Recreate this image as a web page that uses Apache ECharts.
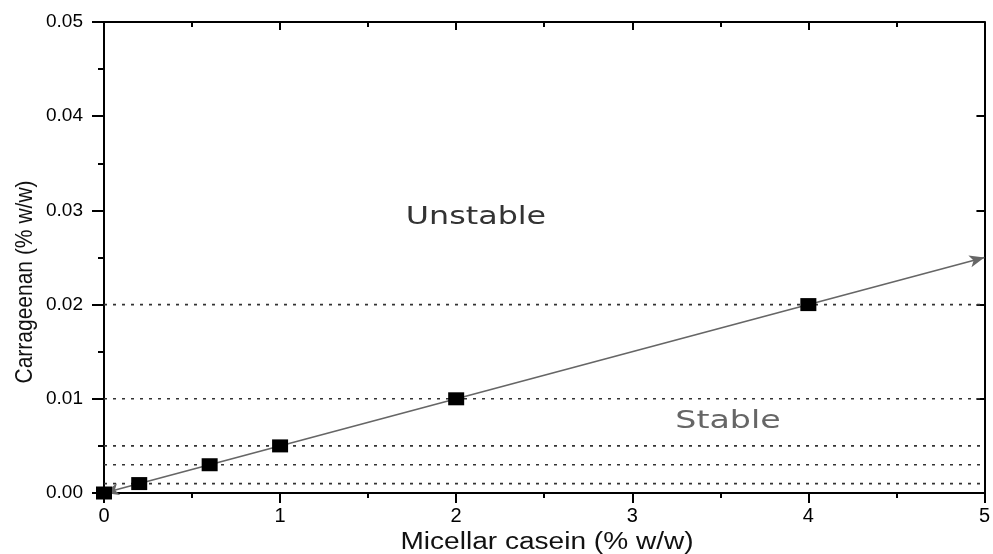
<!DOCTYPE html>
<html>
<head>
<meta charset="utf-8">
<script src="https://cdn.jsdelivr.net/npm/echarts@6/dist/echarts.min.js"></script>
<style>
  html, body { margin: 0; padding: 0; background: #fff; }
  #chart { width: 993px; height: 554px; }
</style>
</head>
<body>
<div id="chart"></div>
<script>
// Measured boundary points: micellar casein vs carrageenan
const caseinValues = [0, 0.2, 0.6, 1, 2, 4];
const carrageenanValues = [0, 0.001, 0.003, 0.005, 0.01, 0.02];
// Reference levels drawn as dotted horizontal lines
const levelValues = [0.02, 0.01, 0.005, 0.003, 0.001];
// Ends of the fitted trend arrow
const trendStart = [0, 0];
const trendEnd = [5, 0.025];
const yTicks = ['0.00', '0.01', '0.02', '0.03', '0.04', '0.05'];
const xTicks = ['0', '1', '2', '3', '4', '5'];

const chart = echarts.init(document.getElementById('chart'));
const font = '"Liberation Sans", Arial, sans-serif';
const wideFont = '"DejaVu Sans", sans-serif';

const points = caseinValues.map((x, i) => [x, carrageenanValues[i]]);
const X_MIN = 0, X_MAX = 5;

const axisLine = { show: true, onZero: false, lineStyle: { color: '#000', width: 2 } };
const tickStyle = { color: '#000', width: 2 };

// Dotted reference levels, each spanning the full casein range
const levelSeries = levelValues.map(v => ({
  type: 'line',
  data: [[X_MIN, v], [X_MAX, v]],
  symbol: 'none',
  silent: true,
  lineStyle: { type: [3, 6], color: '#333', width: 1.6 },
  z: 1
}));

chart.setOption({
  animation: false,
  grid: { left: 104, right: 7, top: 22, bottom: 61 },
  xAxis: [
    {
      type: 'value', position: 'bottom', min: X_MIN, max: X_MAX, interval: 1,
      axisLine: axisLine, splitLine: { show: false },
      axisTick: { show: true, inside: false, length: 10, lineStyle: tickStyle },
      minorTick: { show: true, splitNumber: 2, length: 5, lineStyle: tickStyle },
      axisLabel: { fontFamily: font, fontSize: 20, color: '#000', margin: 13,
        formatter: v => xTicks[Math.round(v)] }
    },
    {
      type: 'value', position: 'top', min: X_MIN, max: X_MAX, interval: 1,
      axisLine: axisLine, splitLine: { show: false },
      axisTick: { show: true, inside: true, length: 8, lineStyle: tickStyle },
      minorTick: { show: true, splitNumber: 2, length: 5, lineStyle: tickStyle },
      axisLabel: { show: false }
    }
  ],
  yAxis: [
    {
      type: 'value', position: 'left', min: 0, max: 0.05, interval: 0.01,
      axisLine: axisLine, splitLine: { show: false },
      axisTick: { show: true, inside: false, length: 12, lineStyle: tickStyle },
      minorTick: { show: true, splitNumber: 2, length: 6, lineStyle: tickStyle },
      axisLabel: { fontFamily: font, fontSize: 19, color: '#000', margin: 21,
        formatter: v => yTicks[Math.round(v * 100)] }
    },
    {
      type: 'value', position: 'right', min: 0, max: 0.05, interval: 0.01,
      axisLine: axisLine, splitLine: { show: false },
      axisTick: { show: true, inside: true, length: 8, lineStyle: tickStyle },
      minorTick: { show: false },
      axisLabel: { show: false }
    }
  ],
  series: levelSeries.concat([
    {
      type: 'line',
      data: [],
      silent: true,
      markLine: {
        silent: true,
        symbol: ['arrow', 'arrow'],
        symbolSize: [9, 15],
        label: { show: false },
        lineStyle: { type: 'solid', color: '#666', width: 1.7 },
        data: [[{ coord: trendStart }, { coord: trendEnd }]]
      },
      z: 2
    },
    {
      type: 'scatter',
      data: points,
      symbol: 'rect',
      symbolSize: [16, 13],
      itemStyle: { color: '#000', opacity: 1 },
      z: 5
    }
  ]),
  graphic: [
    // Axis titles
    { type: 'text', x: 547, y: 543, scaleX: 1.22,
      style: { text: 'Micellar casein (% w/w)', font: '23px ' + font, fill: '#111',
        align: 'center', verticalAlign: 'middle' } },
    { type: 'text', x: 25, y: 282, rotation: Math.PI / 2, scaleY: 1.15,
      style: { text: 'Carrageenan (% w/w)', font: '21px ' + font, fill: '#111',
        align: 'center', verticalAlign: 'middle' } },
    // Region labels
    { type: 'text', x: 476, y: 217, scaleX: 1.27,
      style: { text: 'Unstable', font: '25px ' + wideFont, fill: '#333',
        align: 'center', verticalAlign: 'middle' } },
    { type: 'text', x: 728, y: 421, scaleX: 1.33,
      style: { text: 'Stable', font: '25px ' + wideFont, fill: '#666',
        align: 'center', verticalAlign: 'middle' } }
  ]
});
</script>
</body>
</html>
